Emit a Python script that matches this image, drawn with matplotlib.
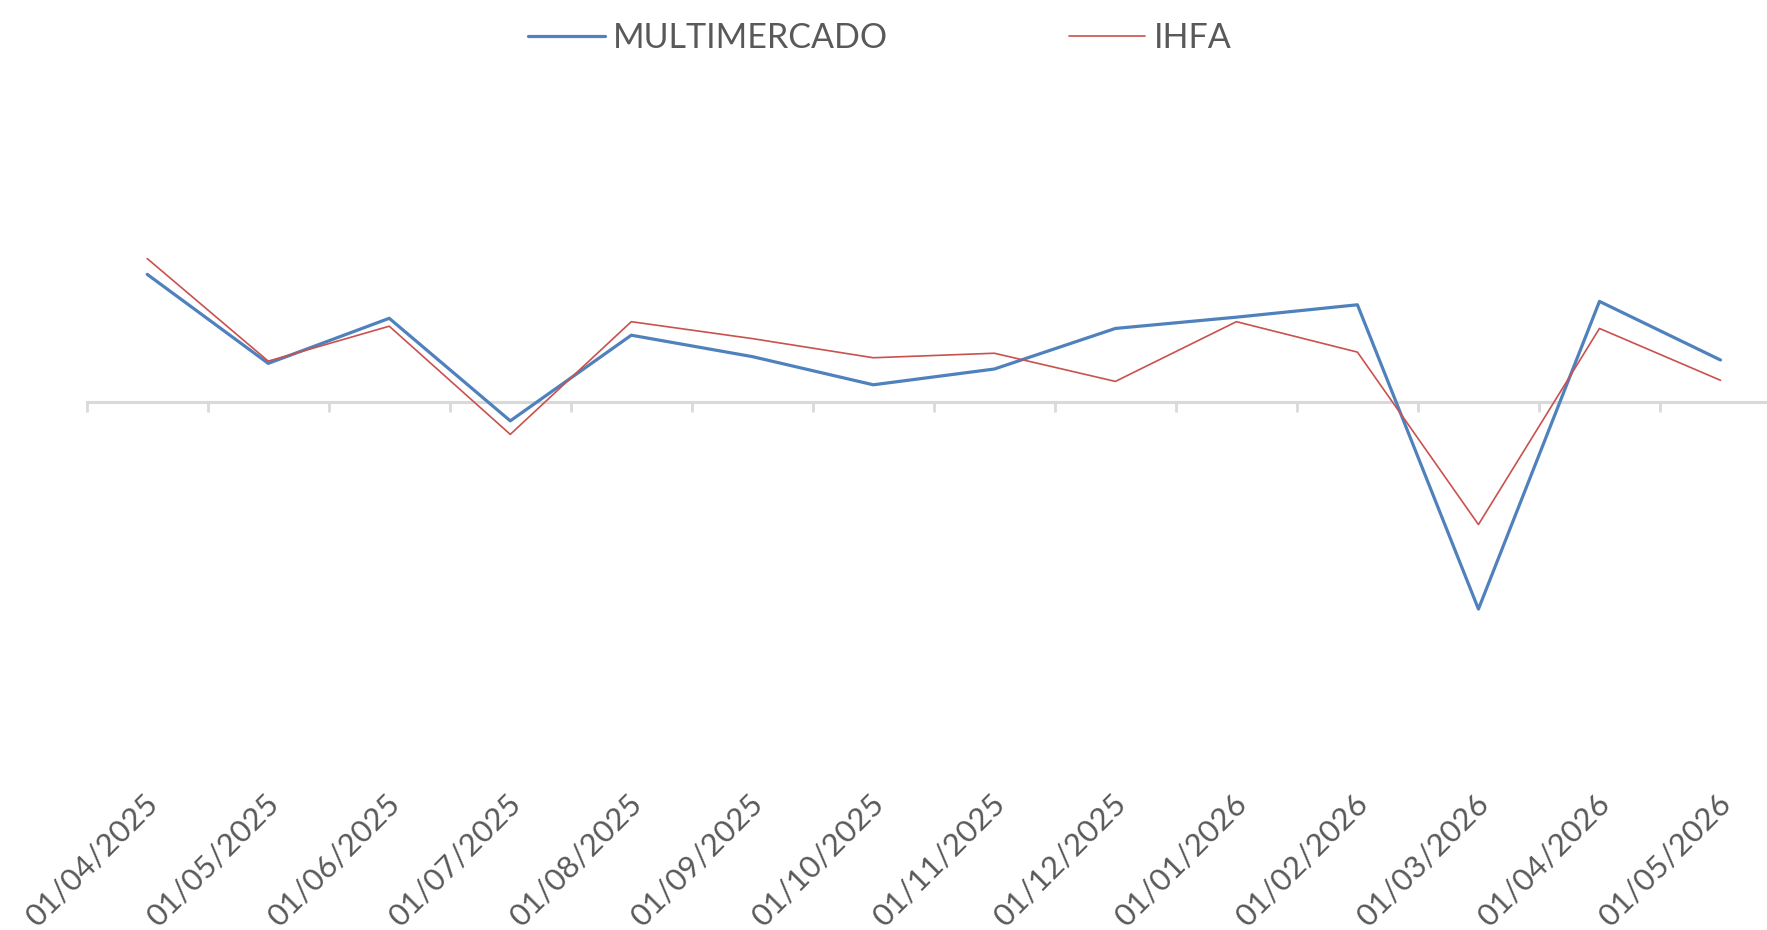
import matplotlib
matplotlib.use("Agg")
import matplotlib.pyplot as plt
import numpy as np

# monthly returns (no y scale shown on the original, values read relative to the zero line)
dates = ["01/04/2025", "01/05/2025", "01/06/2025", "01/07/2025", "01/08/2025",
         "01/09/2025", "01/10/2025", "01/11/2025", "01/12/2025", "01/01/2026",
         "01/02/2026", "01/03/2026", "01/04/2026", "01/05/2026"]
multimercado = [1.13, 0.34, 0.74, -0.17, 0.59, 0.40, 0.15, 0.29, 0.65, 0.75,
                0.86, -1.84, 0.89, 0.37]
ihfa = [1.27, 0.36, 0.67, -0.29, 0.71, 0.56, 0.39, 0.43, 0.18, 0.71,
        0.44, -1.09, 0.65, 0.19]

W, H = 1767, 930
fig = plt.figure(figsize=(W / 100, H / 100), dpi=100)
plt.rcParams['font.family'] = ['Lato', 'DejaVu Sans']

# axes placed so the category axis runs off the right edge, like the source
left = 86.7 / W
width = (1781 - 86.7) / W
bottom = 1 - 739.8 / H
height = 619.85 / H
ax = fig.add_axes([left, bottom, width, height])

x = np.arange(len(dates))
blue = "#4F81BD"
red = "#C9514E"
grid = "#D9D9D9"

ax.plot(x, multimercado, color=blue, lw=2.3, label="MULTIMERCADO",
        solid_capstyle="round", solid_joinstyle="round", zorder=3)
ax.plot(x, ihfa, color=red, lw=1.2, label="IHFA",
        solid_capstyle="round", solid_joinstyle="round", zorder=4)

ax.set_xlim(-0.5, len(dates) - 0.5)
ax.set_ylim(-3, 2.5)

for s in ["top", "right", "left"]:
    ax.spines[s].set_visible(False)
ax.spines["bottom"].set_position(("data", 0))
ax.spines["bottom"].set_color(grid)
ax.spines["bottom"].set_linewidth(2.2)
ax.set_yticks([])

ax.set_xticks(np.arange(-0.5, len(dates), 1))
ax.set_xticklabels([])
ax.tick_params(axis="x", direction="out", length=7.5, width=2.0, color=grid)

for i, d in enumerate(dates):
    ax.text(i + 0.05, -0.095, d, transform=ax.get_xaxis_transform(),
            rotation=45, rotation_mode="anchor", ha="right", va="center",
            fontsize=22.5, color="#595959")

leg = fig.legend(loc="center", bbox_to_anchor=(0.498, 1 - 38 / H), ncol=2,
                 frameon=False, fontsize=24.5, handlelength=2.25,
                 handletextpad=0.26, columnspacing=5.3)
for t in leg.get_texts():
    t.set_color("#595959")

fig.savefig("out.png", dpi=100, facecolor="white")
